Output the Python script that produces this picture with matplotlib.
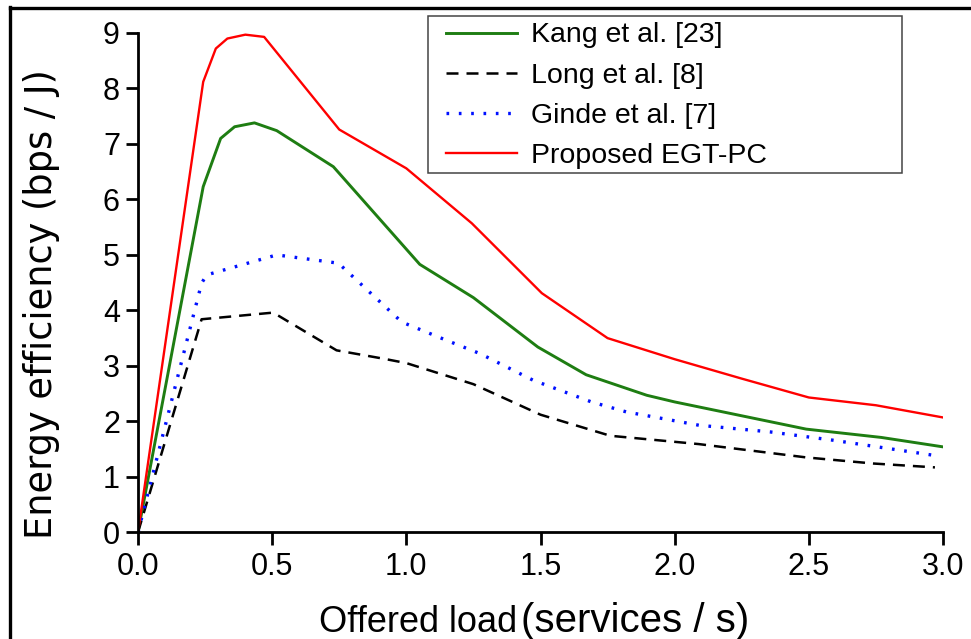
import matplotlib
matplotlib.use("Agg")
import matplotlib.pyplot as plt
from matplotlib.lines import Line2D
from matplotlib.patches import Rectangle

# ---- data ----
kang_x = [0, 0.243, 0.308, 0.36, 0.434, 0.517, 0.728, 1.05, 1.25, 1.49, 1.67, 1.896, 2.0, 2.12, 2.49, 2.77, 3.0]
kang_y = [0, 6.23, 7.10, 7.31, 7.38, 7.24, 6.59, 4.83, 4.23, 3.34, 2.84, 2.47, 2.35, 2.23, 1.86, 1.71, 1.54]

long_x = [0, 0.237, 0.504, 0.74, 0.914, 1.0, 1.25, 1.5, 1.76, 2.09, 2.49, 2.74, 2.97]
long_y = [0, 3.84, 3.96, 3.28, 3.13, 3.05, 2.67, 2.12, 1.74, 1.59, 1.35, 1.24, 1.17]

ginde_x = [0, 0.237, 0.256, 0.343, 0.517, 0.703, 0.747, 0.983, 1.15, 1.275, 1.473, 1.69, 1.82, 2.09, 2.355, 2.59, 2.99]
ginde_y = [0, 4.49, 4.64, 4.76, 5.00, 4.88, 4.85, 3.79, 3.46, 3.22, 2.74, 2.35, 2.17, 1.93, 1.81, 1.66, 1.37]

egt_x = [0, 0.243, 0.29, 0.333, 0.40, 0.47, 0.75, 1.0, 1.244, 1.505, 1.75, 2.0, 2.25, 2.5, 2.75, 3.0]
egt_y = [0, 8.12, 8.72, 8.90, 8.97, 8.93, 7.26, 6.56, 5.57, 4.31, 3.50, 3.12, 2.77, 2.43, 2.29, 2.07]

labels = ["Kang et al. [23]", "Long et al. [8]", "Ginde et al. [7]", "Proposed EGT-PC"]
x_ticks = [0.0, 0.5, 1.0, 1.5, 2.0, 2.5, 3.0]
y_ticks = [0, 1, 2, 3, 4, 5, 6, 7, 8, 9]

plt.rcParams['font.family'] = ['Liberation Sans', 'DejaVu Sans']

W, H = 971, 639
fig = plt.figure(figsize=(W / 100, H / 100), dpi=100)
ax = fig.add_axes([138 / W, 1 - 532.3 / H, (943 - 138) / W, (532.3 - 33) / H])

ax.plot(kang_x, kang_y, color='#1e7d12', lw=2.1, label=labels[0])
ax.plot(long_x, long_y, color='black', lw=1.8, linestyle=(0, (4.8, 3.2)), label=labels[1])
ax.plot(ginde_x, ginde_y, color='#0010ff', lw=2.4, linestyle=(0, (0.8, 2.9)), label=labels[2])
ax.plot(egt_x, egt_y, color='#ff0000', lw=1.7, label=labels[3])

ax.set_xlim(0, 3.0)
ax.set_ylim(0, 9)
ax.set_xticks(x_ticks)
ax.set_xticklabels([f"{t:.1f}" for t in x_ticks])
ax.set_yticks(y_ticks)
for s in ['top', 'right']:
    ax.spines[s].set_visible(False)
for s in ['left', 'bottom']:
    ax.spines[s].set_linewidth(2.0)
ax.tick_params(direction='out', length=9, width=2.0, labelsize=22, pad=5)
ax.tick_params(axis='y', pad=4)

# legend (frame drawn separately to match the wide box)
leg = ax.legend(loc='upper left', bbox_to_anchor=(436 / W, 1 - 12.5 / H),
                bbox_transform=fig.transFigure, fontsize=20.5, frameon=False,
                handlelength=2.5, handletextpad=0.5, labelspacing=0.5,
                borderpad=0.0, borderaxespad=0.35)
fig.add_artist(Rectangle((428 / W, 1 - 173 / H), (902 - 428) / W, (173 - 16) / H,
                         transform=fig.transFigure, fill=False, edgecolor='#444444',
                         lw=1.1, zorder=1))

# axis labels
fig.text(517 / W, 1 - 631.5 / H, "Offered load", fontsize=26, ha='right', va='baseline',
         family=['Liberation Sans'])
fig.text(521 / W, 1 - 631.5 / H, "(services / s)", fontsize=29, ha='left', va='baseline',
         family=['Liberation Sans'])
fig.text(52 / W, 1 - 304 / H, "Energy efficiency (bps / J)", fontsize=26.5, rotation=90,
         rotation_mode='anchor', ha='center', va='baseline', family=['DejaVu Sans'])

# outer frame (top and left)
fig.add_artist(Line2D([9.5 / W, 1.0], [1 - 8.3 / H, 1 - 8.3 / H], transform=fig.transFigure,
                      color='black', lw=2.4))
fig.add_artist(Line2D([10 / W, 10 / W], [0, 1 - 7 / H], transform=fig.transFigure,
                      color='black', lw=2.4))

fig.savefig("out.png", dpi=100)
